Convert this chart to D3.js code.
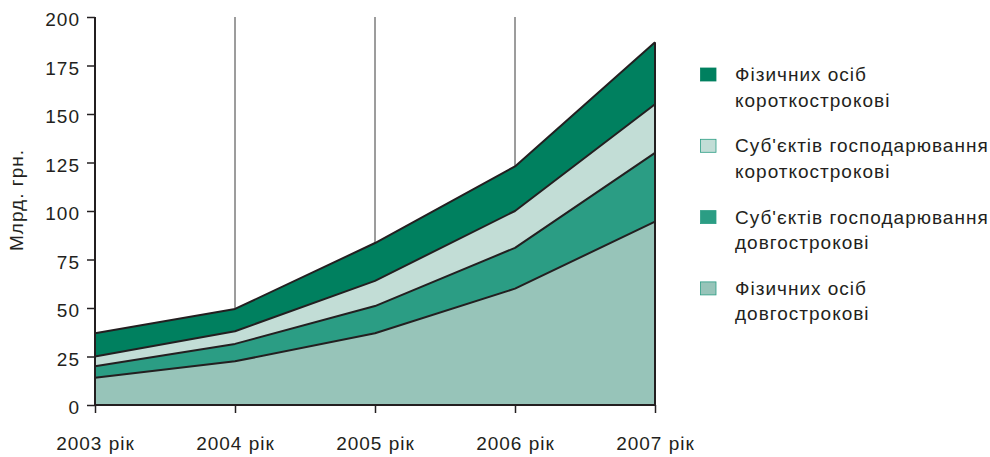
<!DOCTYPE html>
<html><head><meta charset="utf-8">
<script src="https://cdn.jsdelivr.net/npm/d3@7"></script>
<style>body{margin:0;background:#fff}svg{display:block;font-family:"Liberation Sans",Arial,sans-serif}</style>
</head><body><svg id="c" width="990" height="457"></svg>
<script>
const years = ["2003 рік","2004 рік","2005 рік","2006 рік","2007 рік"];
const physLong = [14, 22.5, 37, 60, 94.5];
const subLong = [6, 9, 14, 21, 35.5];
const subShort = [5, 6.5, 13, 19, 25];
const physShort = [12, 11.5, 19.5, 23, 32];
const yTicks = [0,25,50,75,100,125,150,175,200];
const legendLines = [["Фізичних осіб","короткострокові"],["Суб'єктів господарювання","короткострокові"],["Суб'єктів господарювання","довгострокові"],["Фізичних осіб","довгострокові"]];
const colors = ["#97c4b9","#2b9d84","#c2ddd6","#00805f"];

const FS = "19px", LS = "1px";
const svg = d3.select("#c");
const x = d3.scalePoint().domain(years).range([95,655]);
const y = d3.scaleLinear().domain([0,200]).range([405,17]);
const data = years.map((yr,i)=>({yr, a:physLong[i], b:subLong[i], c:subShort[i], d:physShort[i]}));
const layers = d3.stack().keys(["a","b","c","d"])(data);

// gridlines
svg.append("g").selectAll("line").data(years.slice(1,4)).join("line")
  .attr("x1",d=>x(d)).attr("x2",d=>x(d)).attr("y1",y(200)).attr("y2",y(0))
  .attr("stroke","#3a3a3a").attr("stroke-width",1);

const area = d3.area().x(d=>x(d.data.yr)).y0(d=>y(d[0])).y1(d=>y(d[1]));
svg.append("g").selectAll("path").data(layers).join("path")
  .attr("d",area).attr("fill",(d,i)=>colors[i]);
const line = d3.line().x(d=>x(d.data.yr)).y(d=>y(d[1]));
svg.append("g").selectAll("path").data(layers).join("path")
  .attr("d",line).attr("fill","none").attr("stroke","#231f20").attr("stroke-width",2).attr("stroke-linejoin","round");
svg.append("line").attr("x1",x(years[4])).attr("x2",x(years[4]))
  .attr("y1",y(layers[3][4][1])).attr("y2",y(0)).attr("stroke","#231f20").attr("stroke-width",2);

// axes
const gy = svg.append("g").attr("transform","translate(95,0)")
  .call(d3.axisLeft(y).tickValues(yTicks).tickSize(8).tickPadding(7));
const gx = svg.append("g").attr("transform","translate(0,405)")
  .call(d3.axisBottom(x).tickSize(8).tickPadding(24));
[gy,gx].forEach(g=>{
  g.select(".domain").attr("stroke","#231f20").attr("stroke-width",2);
  g.selectAll(".tick line").attr("stroke","#231f20").attr("stroke-width",1.5);
  g.selectAll("text").attr("fill","#231f20").style("font-size",FS).style("letter-spacing",LS)
   .style("font-family","Liberation Sans, Arial, sans-serif");
});
gy.selectAll("text").attr("dy","0.45em");
gy.select(".domain").attr("d","M0,"+y(200)+"V"+y(0));
gx.select(".domain").attr("d","M"+x(years[0])+",0H"+x(years[4]));

svg.append("text").attr("transform","translate(23,200) rotate(-90)").attr("text-anchor","middle")
  .attr("fill","#231f20").style("font-size",FS).style("letter-spacing",LS).text("Млрд. грн.");

// legend
const order = [3,2,1,0];
order.forEach((si,k)=>{
  const g = svg.append("g").attr("transform",`translate(700,${67.5+k*71.3})`);
  g.append("rect").attr("x",0.5).attr("y",0.5).attr("width",15.5).attr("height",13)
    .attr("fill",colors[si]).attr("stroke", si===3?colors[3]:"#2b9d84").attr("stroke-width",0.8);
  legendLines[k].forEach((t,j)=>g.append("text").attr("x",35).attr("y",13.5+j*25.5)
    .attr("fill","#231f20").style("font-size",FS).style("letter-spacing",LS).text(t));
});
</script></body></html>
